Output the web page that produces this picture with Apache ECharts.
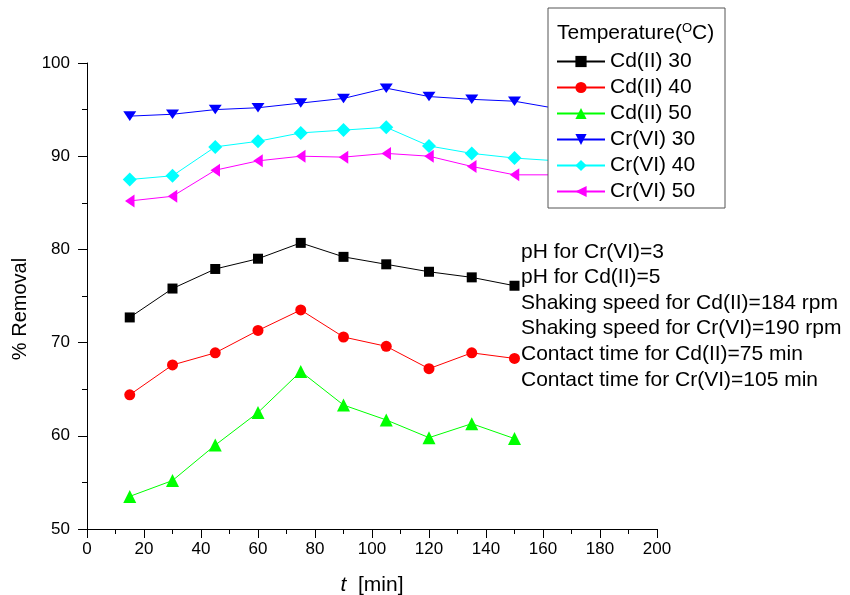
<!DOCTYPE html>
<html>
<head>
<meta charset="utf-8">
<script src="https://cdn.jsdelivr.net/npm/echarts@6/dist/echarts.min.js"></script>
<style>html,body{margin:0;padding:0;background:#fff;}#c{width:850px;height:595px;}</style>
</head>
<body>
<div id="c"></div>
<script>
const timesCd = [15, 30, 45, 60, 75, 90, 105, 120, 135, 150];
const timesCr = [15, 30, 45, 60, 75, 90, 105, 120, 135, 150, 165];
const cd30 = [72.7, 75.8, 77.9, 79.0, 80.7, 79.2, 78.4, 77.6, 77.0, 76.1];
const cd40 = [64.4, 67.6, 68.9, 71.3, 73.5, 70.6, 69.6, 67.2, 68.9, 68.3];
const cd50 = [53.5, 55.2, 59.0, 62.5, 66.9, 63.3, 61.7, 59.8, 61.3, 59.7];
const cr30 = [94.3, 94.5, 95.0, 95.2, 95.7, 96.2, 97.3, 96.4, 96.1, 95.9, 95.1];
const cr40 = [87.5, 87.9, 91.0, 91.6, 92.5, 92.8, 93.1, 91.1, 90.3, 89.8, 89.5];
const cr50 = [85.2, 85.7, 88.5, 89.5, 90.0, 89.9, 90.3, 90.0, 88.9, 88.0, 88.0];
const seriesNames = ['Cd(II) 30', 'Cd(II) 40', 'Cd(II) 50', 'Cr(VI) 30', 'Cr(VI) 40', 'Cr(VI) 50'];
const notes = [
  'pH for Cr(VI)=3',
  'pH for Cd(II)=5',
  'Shaking speed for Cd(II)=184 rpm',
  'Shaking speed for Cr(VI)=190 rpm',
  'Contact time for Cd(II)=75 min',
  'Contact time for Cr(VI)=105 min'
];
const xTicks = { min: 0, max: 200, interval: 20 };
const yTicks = { min: 50, max: 100, interval: 10 };

const FONT = 'Liberation Sans, Arial, sans-serif';
function pts(xs, ys) { return xs.map((x, i) => [x, ys[i]]); }

const styles = [
  { color: '#000000', symbol: 'rect', size: 10 },
  { color: '#ff0000', symbol: 'circle', size: 11 },
  { color: '#00ff00', symbol: 'triangle', size: 13 },
  { color: '#0000ff', symbol: 'path://M0,0L2,0L1,1.732Z', size: [13, 11] },
  { color: '#00ffff', symbol: 'diamond', size: 14 },
  { color: '#ff00ff', symbol: 'path://M0,1L1.732,0L1.732,2Z', size: [11, 13] }
];
const datasets = [pts(timesCd, cd30), pts(timesCd, cd40), pts(timesCd, cd50),
                  pts(timesCr, cr30), pts(timesCr, cr40), pts(timesCr, cr50)];

const chart = echarts.init(document.getElementById('c'));
chart.setOption({
  animation: false,
  backgroundColor: '#fff',
  grid: { left: 87, right: 193, top: 63, bottom: 66, containLabel: false, outerBoundsMode: 'none' },
  xAxis: {
    type: 'value', min: xTicks.min, max: xTicks.max, interval: xTicks.interval,
    name: '{i|t}  [min]', nameLocation: 'middle', nameGap: 46,
    nameTextStyle: { fontSize: 21, color: '#000', fontFamily: FONT, rich: { i: { fontStyle: 'italic', fontSize: 21, fontFamily: FONT } } },
    axisLine: { show: true, onZero: false, lineStyle: { color: '#000', width: 1 } },
    axisTick: { show: true, inside: false, length: 9, lineStyle: { color: '#000' } },
    minorTick: { show: true, splitNumber: 2, length: 5, lineStyle: { color: '#000' } },
    axisLabel: { fontSize: 17, color: '#000', fontFamily: FONT, margin: 12 },
    splitLine: { show: false }
  },
  yAxis: {
    type: 'value', min: yTicks.min, max: yTicks.max, interval: yTicks.interval,
    name: '% Removal', nameLocation: 'middle', nameGap: 50, nameRotate: 90,
    nameTextStyle: { fontSize: 20, color: '#000', fontFamily: FONT, padding: [0, 26, 0, 0] },
    axisLine: { show: true, onZero: false, lineStyle: { color: '#000', width: 1 } },
    axisTick: { show: true, inside: false, length: 9, lineStyle: { color: '#000' } },
    minorTick: { show: true, splitNumber: 2, length: 5, lineStyle: { color: '#000' } },
    axisLabel: { fontSize: 17, color: '#000', fontFamily: FONT, margin: 17 },
    splitLine: { show: false }
  },
  legend: {
    orient: 'vertical', left: 551, top: 46, z: 10,
    itemWidth: 48, itemHeight: 14, itemGap: 5, itemTextGap: 6,
    textStyle: { fontSize: 21, lineHeight: 21, color: '#000', fontFamily: FONT },
    data: seriesNames
  },
  graphic: [
    { type: 'rect', z: 5, shape: { x: 548, y: 8, width: 177, height: 200 },
      style: { fill: '#fff', stroke: '#555', lineWidth: 1 } },
    { type: 'text', z: 11, x: 557, y: 33,
      style: { text: 'Temperature({s|O}C)', font: '21px ' + FONT, fill: '#000', verticalAlign: 'middle',
               rich: { s: { fontSize: 13, fontFamily: FONT, verticalAlign: 'top', padding: [0, 0, 10, 0] } } } },
    { type: 'text', z: 11, x: 521, y: 239,
      style: { text: notes.join('\n'), font: '21px ' + FONT, fill: '#000', lineHeight: 25.6 } }
  ],
  series: seriesNames.map((n, i) => ({
    name: n, type: 'line', data: datasets[i],
    symbol: styles[i].symbol, symbolSize: styles[i].size, symbolKeepAspect: true,
    lineStyle: { color: styles[i].color, width: 1 },
    itemStyle: { color: styles[i].color },
    emphasis: { disabled: true }
  }))
});
</script>
</body>
</html>
